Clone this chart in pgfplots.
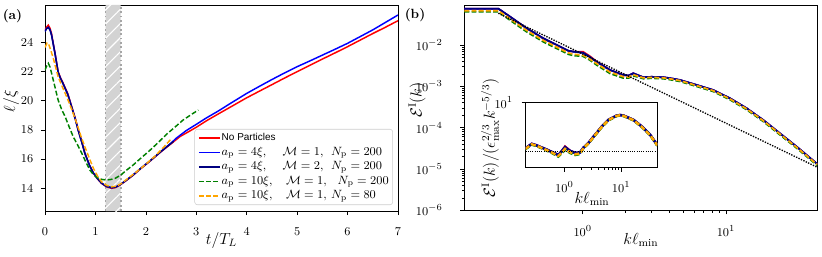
\documentclass[border=0pt]{standalone}
\usepackage{fontspec}
\newfontfamily\lsans{Liberation Sans}
\usepackage{pgfplots}
\pgfplotsset{compat=1.18}
\usetikzlibrary{patterns.meta}
\definecolor{mplred}{HTML}{FF0000}
\definecolor{mplblue}{HTML}{0000FF}
\definecolor{mplnavy}{HTML}{000080}
\definecolor{mplgreen}{HTML}{008000}
\definecolor{mplorange}{HTML}{FFA500}
\definecolor{bandgray}{HTML}{D3D3D3}
\pgfplotsset{
  base/.style={scale only axis, tick align=outside, tick pos=left,
    axis line style={line width=0.6pt},
    major tick length=3pt, minor tick length=1.8pt,
    every tick/.style={black, line width=0.5pt},
    tick label style={font=\fontsize{9.5}{11}\selectfont},
    label style={font=\fontsize{11.5}{13}\selectfont},
  },
  dsh/.style={dash pattern=on 3.7pt off 1.7pt},
}
\begin{document}
\begin{tikzpicture}
\useasboundingbox (-33.75pt,-34.5pt) rectangle (582.75pt,158.25pt);
% ---------------- panel (a)
\begin{axis}[base, at={(0pt,0pt)}, anchor=south west,
  width=264.75pt, height=154.5pt,
  xmin=0, xmax=7, ymin=12.445, ymax=26.555,
  xtick={0,1,...,7}, ytick={14,16,...,24},
  xticklabel style={yshift=-5.8pt}, yticklabel style={xshift=-2.3pt},
  xlabel={$t/T_L$}, ylabel={$\ell/\xi$},
  x label style={at={(axis description cs:0.5,-0.141)}, anchor=center},
  y label style={at={(axis description cs:-0.0963,0.534)}, anchor=center},
  legend style={at={(axis description cs:1,0)}, anchor=south east, xshift=-3.75pt, yshift=4.5pt,
    draw=black!20, rounded corners=2pt, fill=white, fill opacity=0.8, text opacity=1,
    inner xsep=2.5pt, inner ysep=2pt, row sep=1.9pt,
    nodes={inner sep=0.5pt, text height=6pt, text depth=2pt},
    font=\fontsize{8.8}{10}\selectfont},
  legend cell align=left,
  legend image code/.code={\draw[#1, line width=1.25pt] (0pt,0pt) -- (16pt,0pt);},
]
\addplot[draw=none, fill=bandgray, forget plot] coordinates {(1.2,12.445) (1.5,12.445) (1.5,26.555) (1.2,26.555) (1.2,12.445)};
\addplot[draw=none, pattern={Lines[angle=45,distance=7.5pt,line width=0.8pt]}, pattern color=white, forget plot] coordinates {(1.2,12.445) (1.5,12.445) (1.5,26.555) (1.2,26.555) (1.2,12.445)};
\addplot[black!35, dotted, line width=1.3pt, forget plot] coordinates {(1.2,12.445) (1.2,26.555)};
\addplot[black!35, dotted, line width=1.3pt, forget plot] coordinates {(1.5,12.445) (1.5,26.555)};
% No particles
\addplot[mplred, line width=1.1pt] coordinates {
(0,24.84) (0.033,25.05) (0.066,25.18) (0.1,24.95) (0.13,24.6) (0.165,23.9) (0.2,23.25) (0.26,22.0) (0.31,21.55) (0.36,21.2) (0.45,20.5) (0.53,19.6) (0.6,18.8) (0.66,18.0) (0.73,17.2) (0.79,16.4) (0.88,15.6) (0.96,15.03) (1.04,14.65) (1.12,14.34) (1.22,14.1) (1.32,14.0) (1.40,14.05) (1.49,14.23) (1.6,14.5) (1.75,14.9) (1.9,15.35) (2.08,15.85) (2.3,16.5) (2.5,17.05) (2.68,17.55) (2.85,17.88) (3.0,18.18) (3.2,18.62) (3.44,19.1) (3.67,19.55) (4.0,20.2) (4.25,20.65) (4.5,21.1) (4.75,21.55) (5.0,21.99) (5.25,22.42) (5.5,22.85) (5.75,23.27) (6.0,23.7) (6.25,24.15) (6.5,24.6) (6.75,25.03) (7.0,25.48)};
\addlegendentry{{\lsans\fontsize{7.5}{9}\selectfont No Particles}}
\addplot[mplblue, line width=1.1pt] coordinates {
(0,24.75) (0.033,24.95) (0.066,25.02) (0.1,24.85) (0.13,24.5) (0.165,23.85) (0.2,23.2) (0.26,21.95) (0.31,21.5) (0.36,21.15) (0.45,20.45) (0.53,19.55) (0.6,18.75) (0.66,17.95) (0.73,17.15) (0.79,16.4) (0.88,15.6) (0.96,15.05) (1.04,14.67) (1.12,14.36) (1.22,14.13) (1.32,14.04) (1.40,14.08) (1.49,14.25) (1.6,14.52) (1.75,14.92) (1.9,15.37) (2.08,15.87) (2.3,16.52) (2.5,17.1) (2.61,17.45) (2.8,17.95) (3.0,18.38) (3.2,18.82) (3.44,19.3) (3.67,19.8) (4.0,20.5) (4.25,20.98) (4.5,21.45) (4.75,21.9) (5.0,22.33) (5.25,22.72) (5.5,23.12) (5.75,23.52) (6.0,23.93) (6.25,24.39) (6.5,24.85) (6.75,25.36) (7.0,25.87)};
\addlegendentry{\makebox[45.75pt][l]{$a_{\mathrm{p}}=4\xi,$}\makebox[36.25pt][l]{$\mathcal{M}=1,$}$N_{\mathrm{p}}=200$}
\addplot[mplnavy, line width=1.1pt] coordinates {
(0,24.75) (0.033,24.95) (0.066,25.02) (0.1,24.85) (0.13,24.5) (0.165,23.85) (0.2,23.2) (0.26,21.95) (0.31,21.5) (0.36,21.15) (0.45,20.45) (0.53,19.55) (0.6,18.75) (0.66,17.95) (0.73,17.15) (0.79,16.4) (0.88,15.6) (0.96,15.05) (1.04,14.67) (1.12,14.36) (1.22,14.13) (1.32,14.04) (1.40,14.08) (1.49,14.25) (1.6,14.52) (1.75,14.92) (1.9,15.37) (2.08,15.87) (2.3,16.52) (2.55,17.22)};
\addlegendentry{\makebox[45.75pt][l]{$a_{\mathrm{p}}=4\xi,$}\makebox[36.25pt][l]{$\mathcal{M}=2,$}$N_{\mathrm{p}}=200$}
\addplot[mplgreen, dsh, line width=1.1pt] coordinates {
(0,22.1) (0.03,22.35) (0.066,22.56) (0.1,22.3) (0.165,21.4) (0.26,20.05) (0.33,19.4) (0.40,18.9) (0.48,18.2) (0.56,17.53) (0.65,16.95) (0.73,16.4) (0.81,15.8) (0.89,15.25) (0.97,14.9) (1.06,14.68) (1.14,14.6) (1.22,14.57) (1.30,14.6) (1.39,14.68) (1.5,14.9) (1.62,15.25) (1.75,15.6) (1.88,16.0) (2.08,16.6) (2.25,17.15) (2.41,17.7) (2.58,18.2) (2.74,18.68) (2.9,19.05) (3.04,19.36)};
\addlegendentry{\makebox[48.25pt][l]{$a_{\mathrm{p}}=10\xi,$}\makebox[38.75pt][l]{$\mathcal{M}=1,$}$N_{\mathrm{p}}=200$}
\addplot[mplorange, dsh, line width=1.1pt] coordinates {
(0,23.65) (0.04,23.95) (0.07,23.9) (0.12,23.4) (0.165,22.9) (0.26,21.64) (0.35,20.9) (0.43,20.27) (0.53,19.4) (0.63,18.45) (0.71,17.6) (0.79,16.85) (0.88,16.05) (0.96,15.37) (1.04,14.85) (1.12,14.45) (1.22,14.2) (1.32,14.1) (1.42,14.15) (1.52,14.34) (1.65,14.7) (1.82,15.14) (2.0,15.65) (2.18,16.2) (2.35,16.8) (2.51,17.42)};
\addlegendentry{\makebox[48.25pt][l]{$a_{\mathrm{p}}=10\xi,$}\makebox[33.75pt][l]{$\mathcal{M}=1,$}$N_{\mathrm{p}}=80$}
\end{axis}
% ---------------- panel (b)
\begin{axis}[base, at={(314.5pt,0.525pt)}, anchor=south west,
  width=264.75pt, height=154pt, xmode=log, ymode=log,
  xmin=0.1493, xmax=43.4, ymin=1e-6, ymax=0.0931,
  xtick={1,10}, ytick={1e-6,1e-5,1e-4,1e-3,1e-2},
  xticklabel style={yshift=-4.7pt}, yticklabel style={xshift=-9.8pt},
  xlabel={$k\ell_{\min}$}, ylabel={$\mathcal{E}^{\mathrm{I}}(k)$},
  x label style={at={(axis description cs:0.5,-0.144)}, anchor=center},
  y label style={at={(axis description cs:-0.134,0.537)}, anchor=center},
]
\addplot[mplred, line width=1.3pt] coordinates {
(0.1493,0.07586) (0.2576,0.07586) (0.3112,0.04842) (0.4064,0.02535) (0.5309,0.01452) (0.695,0.00912) (0.7943,0.007244) (0.859,0.006918) (1.009,0.006839) (1.122,0.005370) (1.253,0.003981) (1.552,0.002483) (1.919,0.001879) (2.089,0.001820) (2.254,0.002065) (2.512,0.001778) (2.649,0.001660) (3.020,0.001698) (3.648,0.001660) (4.169,0.001549) (4.775,0.001422) (6.252,0.001076) (8.147,0.000813) (10.666,0.000513) (13.93,0.000295) (18.20,0.0001528) (23.82,7.244e-5) (31.12,3.467e-5) (43.35,1.318e-5)};
\addplot[mplblue, line width=1.3pt] coordinates {
(0.1493,0.07586) (0.2576,0.07586) (0.3112,0.04842) (0.4064,0.02535) (0.5309,0.01452) (0.695,0.00912) (0.7943,0.007244) (0.859,0.006918) (1.009,0.006457) (1.122,0.005129) (1.253,0.003890) (1.552,0.002483) (1.919,0.001879) (2.089,0.001820) (2.254,0.002065) (2.512,0.001778) (2.649,0.001660) (3.020,0.001698) (3.648,0.001660) (4.169,0.001549) (4.775,0.001422) (6.252,0.001076) (8.147,0.000813) (10.666,0.000513) (13.93,0.000295) (18.20,0.0001528) (23.82,7.244e-5) (31.12,3.467e-5) (43.35,1.318e-5)};
\addplot[mplnavy, line width=1.3pt] coordinates {
(0.1493,0.07586) (0.2576,0.07586) (0.3112,0.04842) (0.4064,0.02535) (0.5309,0.01452) (0.695,0.00912) (0.7943,0.007244) (0.859,0.006918) (1.009,0.006457) (1.122,0.005129) (1.253,0.003890) (1.552,0.002483) (1.919,0.001879) (2.089,0.001820) (2.254,0.002065) (2.512,0.001778) (2.649,0.001660) (3.020,0.001698) (3.648,0.001660) (4.169,0.001549) (4.775,0.001422) (6.252,0.001076) (8.147,0.000813) (10.666,0.000513) (13.93,0.000295) (18.20,0.0001528) (23.82,7.244e-5) (31.12,3.467e-5) (43.35,1.318e-5)};
\addplot[mplgreen, dsh, line width=1.3pt] coordinates {
(0.1493,0.06383) (0.2576,0.06383) (0.3112,0.03981) (0.4064,0.02084) (0.5309,0.01194) (0.695,0.007499) (0.7943,0.005957) (0.859,0.005559) (1.009,0.005309) (1.122,0.004315) (1.253,0.003273) (1.552,0.002042) (1.919,0.001585) (2.089,0.001585) (2.254,0.001799) (2.512,0.001622) (2.649,0.001531) (3.020,0.001567) (3.648,0.001531) (4.169,0.001429) (4.775,0.001312) (6.252,0.000993) (8.147,0.000750) (10.666,0.000473) (13.93,0.000272) (18.20,0.0001409) (23.82,6.68e-5) (31.12,3.20e-5) (43.35,1.216e-5)};
\addplot[mplorange, dsh, line width=1.3pt] coordinates {
(0.1493,0.06761) (0.2576,0.06761) (0.3112,0.04315) (0.4064,0.02259) (0.5309,0.01294) (0.695,0.008128) (0.7943,0.006457) (0.859,0.006026) (1.009,0.005623) (1.122,0.004571) (1.253,0.003548) (1.552,0.002213) (1.919,0.001714) (2.089,0.001679) (2.254,0.001905) (2.512,0.001698) (2.649,0.001603) (3.020,0.001641) (3.648,0.001603) (4.169,0.001496) (4.775,0.001374) (6.252,0.001040) (8.147,0.000785) (10.666,0.000495) (13.93,0.000285) (18.20,0.0001476) (23.82,7.00e-5) (31.12,3.35e-5) (43.35,1.274e-5)};
\addplot[black, densely dotted, line width=1pt] coordinates {(0.2576,0.0586) (43.35,1.10e-5)};
\end{axis}
% ---------------- inset
\begin{axis}[base, at={(360.4pt,32.6pt)}, anchor=south west,
  width=98.85pt, height=48.75pt, xmode=log, ymode=log,
  xmin=0.207, xmax=43.4, ymin=0.562, ymax=10,
  xtick={1,10}, ytick={10}, yminorticks=false,
  axis background/.style={fill=white},
  xticklabel style={yshift=-3.7pt}, yticklabel style={xshift=-3pt},
  xlabel={$k\ell_{\min}$}, ylabel={$\mathcal{E}^{\mathrm{I}}(k)/(\epsilon_{\max}^{2/3}k^{-5/3})$},
  x label style={at={(axis description cs:0.504,-0.48)}, anchor=center},
  y label style={at={(axis description cs:-0.27,0.454)}, anchor=center},
]
\addplot[mplred, line width=1.8pt] coordinates {
(0.2042,1.303) (0.2661,1.603) (0.3162,1.514) (0.3990,1.365) (0.5012,1.230) (0.5998,1.122) (0.7834,0.9772) (0.8913,1.148) (1.028,1.42) (1.148,1.29) (1.259,1.175) (1.545,1.072) (1.892,1.096) (2.163,1.349) (2.649,1.660) (3.475,2.399) (4.571,3.451) (5.970,4.645) (8.395,5.623) (9.550,5.754) (10.965,5.623) (16.48,4.645) (23.17,3.451) (32.43,2.393) (43.35,1.514)};
\addplot[mplblue, line width=1.8pt] coordinates {
(0.2042,1.303) (0.2661,1.603) (0.3162,1.514) (0.3990,1.365) (0.5012,1.230) (0.5998,1.122) (0.7834,0.9772) (0.8913,1.148) (1.028,1.387) (1.148,1.259) (1.259,1.175) (1.545,1.072) (1.892,1.096) (2.163,1.349) (2.649,1.660) (3.475,2.399) (4.571,3.451) (5.970,4.645) (8.395,5.623) (9.550,5.754) (10.965,5.623) (16.48,4.645) (23.17,3.451) (32.43,2.393) (43.35,1.514)};
\addplot[mplnavy, line width=1.8pt] coordinates {
(0.2042,1.303) (0.2661,1.603) (0.3162,1.514) (0.3990,1.365) (0.5012,1.230) (0.5998,1.122) (0.7834,0.9772) (0.8913,1.148) (1.028,1.387) (1.148,1.259) (1.259,1.175) (1.545,1.072) (1.892,1.096) (2.163,1.349) (2.649,1.660) (3.475,2.399) (4.571,3.451) (5.970,4.645) (8.395,5.623) (9.550,5.754) (10.965,5.623) (16.48,4.645) (23.17,3.451) (32.43,2.393) (43.35,1.514)};
\addplot[mplgreen, dsh, line width=1.8pt] coordinates {
(0.2042,1.259) (0.2661,1.549) (0.3162,1.462) (0.3990,1.318) (0.5012,1.175) (0.5998,1.072) (0.7834,0.912) (0.8913,1.047) (1.028,1.230) (1.148,1.148) (1.259,1.072) (1.545,0.977) (1.892,1.023) (2.163,1.318) (2.649,1.622) (3.475,2.344) (4.571,3.373) (5.970,4.539) (8.395,5.495) (9.550,5.623) (10.965,5.495) (16.48,4.539) (23.17,3.373) (32.43,2.339) (43.35,1.479)};
\addplot[mplorange, dsh, line width=1.8pt] coordinates {
(0.2042,1.28) (0.2661,1.575) (0.3162,1.49) (0.3990,1.34) (0.5012,1.20) (0.5998,1.095) (0.7834,0.94) (0.8913,1.08) (1.028,1.29) (1.148,1.19) (1.259,1.11) (1.545,1.01) (1.892,1.05) (2.163,1.33) (2.649,1.64) (3.475,2.37) (4.571,3.41) (5.970,4.59) (8.395,5.56) (9.550,5.69) (10.965,5.56) (16.48,4.59) (23.17,3.41) (32.43,2.36) (43.35,1.50)};
\addplot[black, densely dotted, line width=0.7pt] coordinates {(0.207,1.143) (43.4,1.143)};
\end{axis}
\node[font=\bfseries\fontsize{10}{12}\selectfont] at (-24.4pt,145.9pt) {(a)};
\node[font=\bfseries\fontsize{10}{12}\selectfont] at (277.5pt,147pt) {(b)};
\end{tikzpicture}
\end{document}
